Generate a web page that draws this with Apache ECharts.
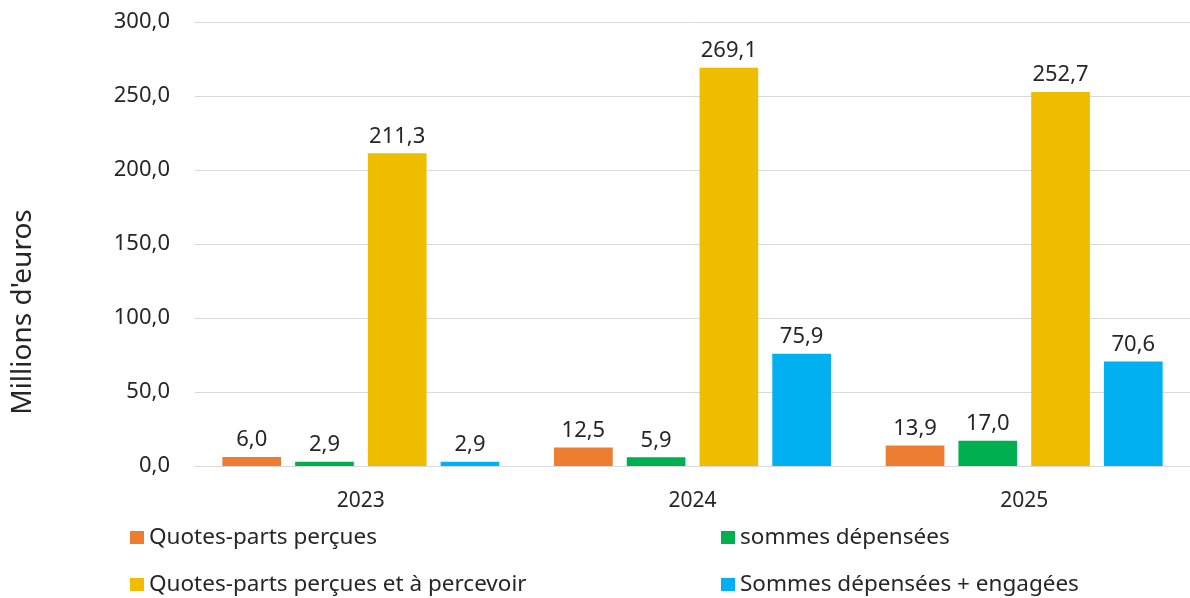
<!DOCTYPE html>
<html>
<head>
<meta charset="utf-8">
<script src="https://cdn.jsdelivr.net/npm/echarts@6/dist/echarts.min.js"></script>
<style>
  html, body { margin: 0; padding: 0; background: #fff; }
  #main { width: 1190px; height: 598px; }
</style>
</head>
<body>
<div id="main"></div>
<script>
// data
const years = ['2023', '2024', '2025'];
const quotesPercues = [6.0, 12.5, 13.9];
const sommesDepensees = [2.9, 5.9, 17.0];
const quotesPercevoir = [211.3, 269.1, 252.7];
const sommesEngagees = [2.9, 75.9, 70.6];

const FONT = '"Noto Sans", sans-serif';
const TXT = '#262626';

const fmt = (v) => v.toFixed(1).replace('.', ',');

function barSeries(name, data, color) {
  return {
    name: name,
    type: 'bar',
    data: data,
    barGap: '24%',
    barCategoryGap: '16.5%',
    itemStyle: { color: color },
    label: {
      show: true,
      position: 'top',
      distance: 6,
      fontFamily: FONT,
      fontSize: 22,
      color: TXT,
      formatter: (p) => fmt(p.value)
    }
  };
}

// one legend per entry so the 2x2 layout sits where the reference has it
function legendItem(name, left, top) {
  return {
    data: [name],
    left: left,
    top: top,
    itemWidth: 14,
    itemHeight: 13,
    itemGap: 6,
    icon: 'rect',
    textStyle: { fontFamily: FONT, fontSize: 22.5, color: TXT }
  };
}

const chart = echarts.init(document.getElementById('main'));

chart.setOption({
  animation: false,
  grid: { left: 195, right: -2, top: 22, bottom: 132, containLabel: false },
  xAxis: {
    type: 'category',
    data: years,
    axisLine: { lineStyle: { color: '#d9d9d9', width: 1 } },
    axisTick: { show: false },
    axisLabel: { fontFamily: FONT, fontSize: 21, color: TXT, margin: 25 }
  },
  yAxis: {
    type: 'value',
    min: 0,
    max: 300,
    interval: 50,
    axisLine: { show: false },
    axisTick: { show: false },
    axisLabel: { fontFamily: FONT, fontSize: 22, color: TXT, margin: 25, formatter: fmt },
    splitLine: { lineStyle: { color: '#d9d9d9', width: 1 } }
  },
  legend: [
    legendItem('Quotes-parts perçues', 125, 521),
    legendItem('sommes dépensées', 716, 521),
    legendItem('Quotes-parts perçues et à percevoir', 125, 568),
    legendItem('Sommes dépensées + engagées', 716, 568)
  ],
  graphic: [{
    type: 'text',
    x: 23,
    y: 312,
    rotation: Math.PI / 2,
    style: {
      text: "Millions d'euros",
      font: '28px "Noto Sans", sans-serif',
      fill: TXT,
      textAlign: 'center',
      textVerticalAlign: 'middle'
    }
  }],
  series: [
    barSeries('Quotes-parts perçues', quotesPercues, '#ED7D31'),
    barSeries('sommes dépensées', sommesDepensees, '#00B050'),
    barSeries('Quotes-parts perçues et à percevoir', quotesPercevoir, '#F0BC00'),
    barSeries('Sommes dépensées + engagées', sommesEngagees, '#00B0F0')
  ]
});
</script>
</body>
</html>
